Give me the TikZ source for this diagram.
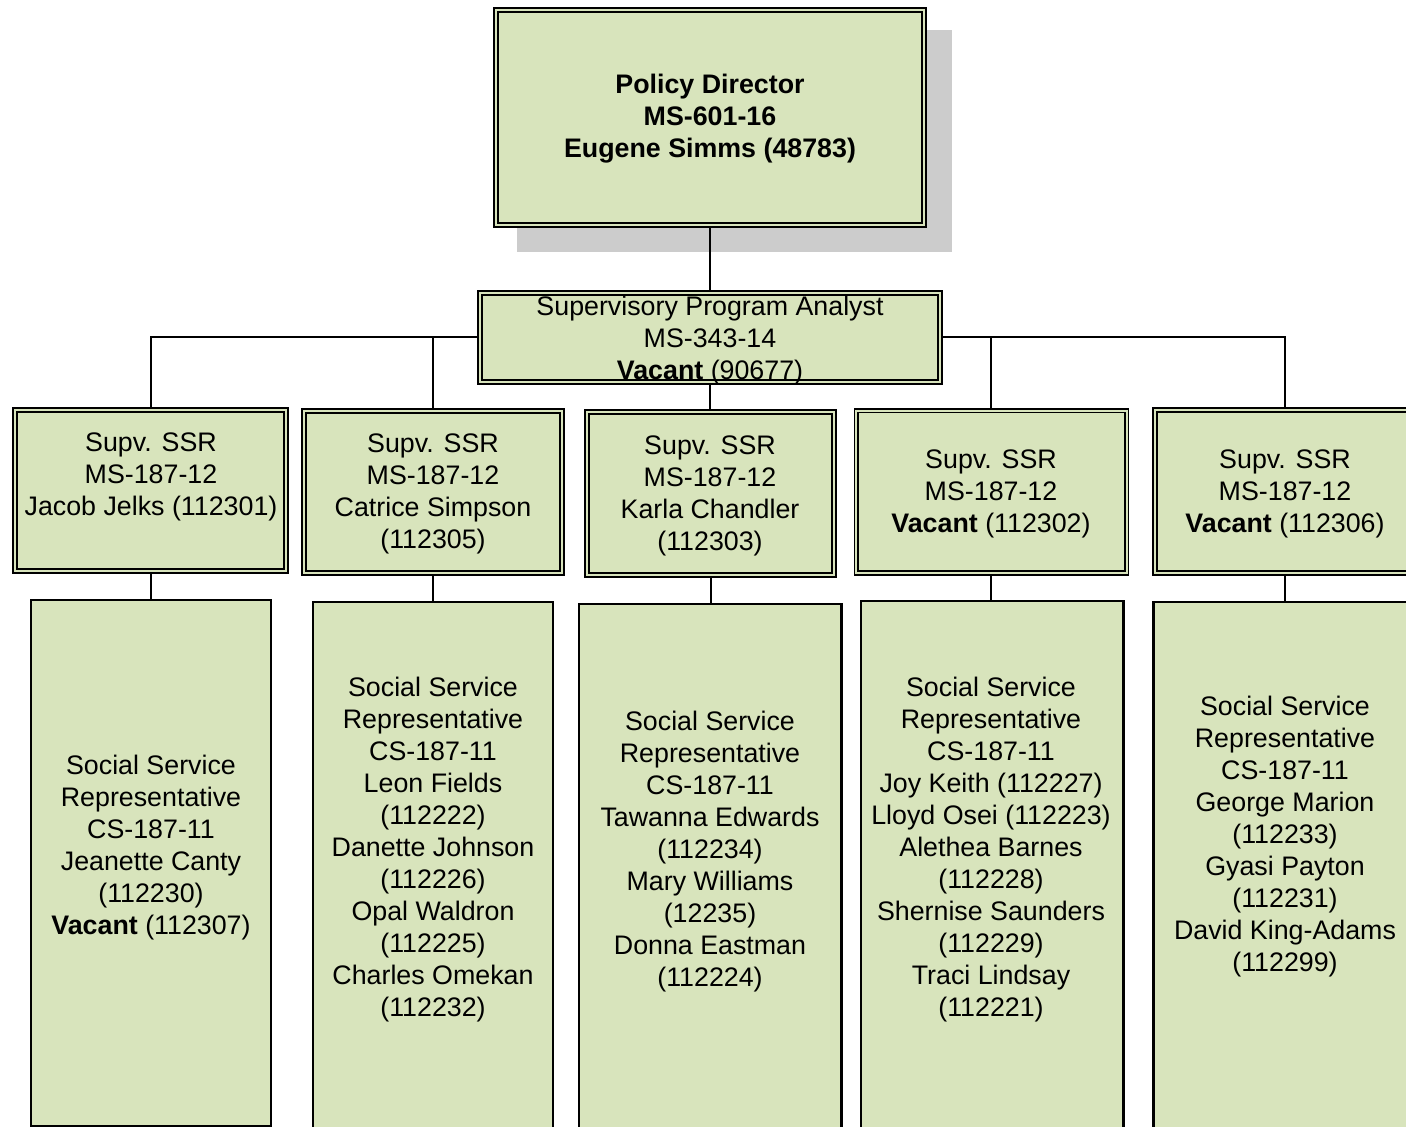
\documentclass[tikz,border=0pt]{standalone}
\usepackage{fontspec}
\setmainfont{Liberation Sans}
\definecolor{boxfill}{HTML}{D8E4BC}
\definecolor{shadowgray}{HTML}{CCCCCC}
\begin{document}
\begin{tikzpicture}[x=0.5pt,y=-0.5pt,
  dbox/.style={draw=black, fill=boxfill, line width=0.9pt, double=boxfill, double distance=1pt, inner sep=0pt, outer sep=1.4pt},
  sbox/.style={draw=black, fill=boxfill, line width=1.1pt, inner sep=0pt, outer sep=0.55pt},
  txt/.style={align=center, inner sep=0pt, font=\fontsize{13.4}{16}\selectfont},
  btxt/.style={align=center, inner sep=0pt, font=\fontsize{13.4}{16}\selectfont\bfseries},
  conn/.style={draw=black, line width=1pt}]
\useasboundingbox (0,0) rectangle (1406,1127);
\clip (0,0) rectangle (1406,1127);
% shadow of top box
\fill[shadowgray] (517,30) rectangle (952,252);
% boxes
\node[dbox, minimum width=214.2pt, minimum height=107.7pt] (pd) at (710,117.5) {};
\node[dbox, minimum width=230.2pt, minimum height=44.7pt] (sup) at (710,337.5) {};
\node[dbox, minimum width=135.7pt, minimum height=80.45pt] (b1) at (150.5,490.75) {};
\node[dbox, minimum width=129.2pt, minimum height=81.2pt] (b2) at (433,492) {};
\node[dbox, minimum width=123.7pt, minimum height=81.3pt] (b3) at (710.5,493.6) {};
\node[dbox, minimum width=135.1pt, minimum height=81.35pt] (b4) at (991.4,491.9) {};
\node[dbox, minimum width=130.2pt, minimum height=81.45pt] (b5) at (1285,491.75) {};
\node[sbox, anchor=north, minimum width=119.9pt, minimum height=262.9pt] (c1) at (151,599.1) {};
\node[sbox, anchor=north, minimum width=120pt, minimum height=300pt] (c2) at (433,601) {};
\node[sbox, anchor=north, minimum width=131.4pt, minimum height=300pt] (c3) at (710,602.6) {};
\node[sbox, anchor=north, minimum width=131.4pt, minimum height=300pt] (c4) at (992,600.1) {};
\node[sbox, anchor=north, minimum width=131.5pt, minimum height=300pt] (c5) at (1285,600.6) {};
% connectors
\draw[conn] (pd.south) -- (sup.north);
\draw[conn] (sup.west) -| (b1.north);
\draw[conn] (b2.north) |- (sup.west);
\draw[conn] (sup.east) -| (b5.north);
\draw[conn] (b4.north) |- (sup.east);
\draw[conn] (sup.south) -- (sup.south |- b3.north);
\draw[conn] (b1.south) -- (b1.south |- c1.north);
\draw[conn] (b2.south) -- (b2.south |- c2.north);
\draw[conn] (b3.south) -- (b3.south |- c3.north);
\draw[conn] (b4.south) -- (b4.south |- c4.north);
\draw[conn] (b5.south) -- (b5.south |- c5.north);
% texts
\node[btxt] (tpd) at (710,119) {Policy Director\\MS-601-16\\Eugene Simms (48783)};
\node[txt] (tsup) at (710,341) {Supervisory Program Analyst\\MS-343-14\\\textbf{Vacant} (90677)};
\node[txt] (tb1) at (151,477) {Supv. SSR\\MS-187-12\\Jacob Jelks (112301)};
\node[txt] (tb2) at (433,494) {Supv. SSR\\MS-187-12\\Catrice Simpson\\(112305)};
\node[txt] (tb3) at (710,496) {Supv. SSR\\MS-187-12\\Karla Chandler\\(112303)};
\node[txt] (tb4) at (991,494) {Supv. SSR\\MS-187-12\\\textbf{Vacant} (112302)};
\node[txt] (tb5) at (1285,494) {Supv. SSR\\MS-187-12\\\textbf{Vacant} (112306)};
\node[txt] (tc1) at (151,848) {Social Service\\Representative\\CS-187-11\\Jeanette Canty\\(112230)\\\textbf{Vacant} (112307)};
\node[txt] (tc2) at (433,850) {Social Service\\Representative\\CS-187-11\\Leon Fields\\(112222)\\Danette Johnson\\(112226)\\Opal Waldron\\(112225)\\Charles Omekan\\(112232)};
\node[txt] (tc3) at (710,852) {Social Service\\Representative\\CS-187-11\\Tawanna Edwards\\(112234)\\Mary Williams\\(12235)\\Donna Eastman\\(112224)};
\node[txt] (tc4) at (991,850) {Social Service\\Representative\\CS-187-11\\Joy Keith (112227)\\Lloyd Osei (112223)\\Alethea Barnes\\(112228)\\Shernise Saunders\\(112229)\\Traci Lindsay\\(112221)};
\node[txt] (tc5) at (1285,837) {Social Service\\Representative\\CS-187-11\\George Marion\\(112233)\\Gyasi Payton\\(112231)\\David King-Adams\\(112299)};
\end{tikzpicture}
\end{document}
